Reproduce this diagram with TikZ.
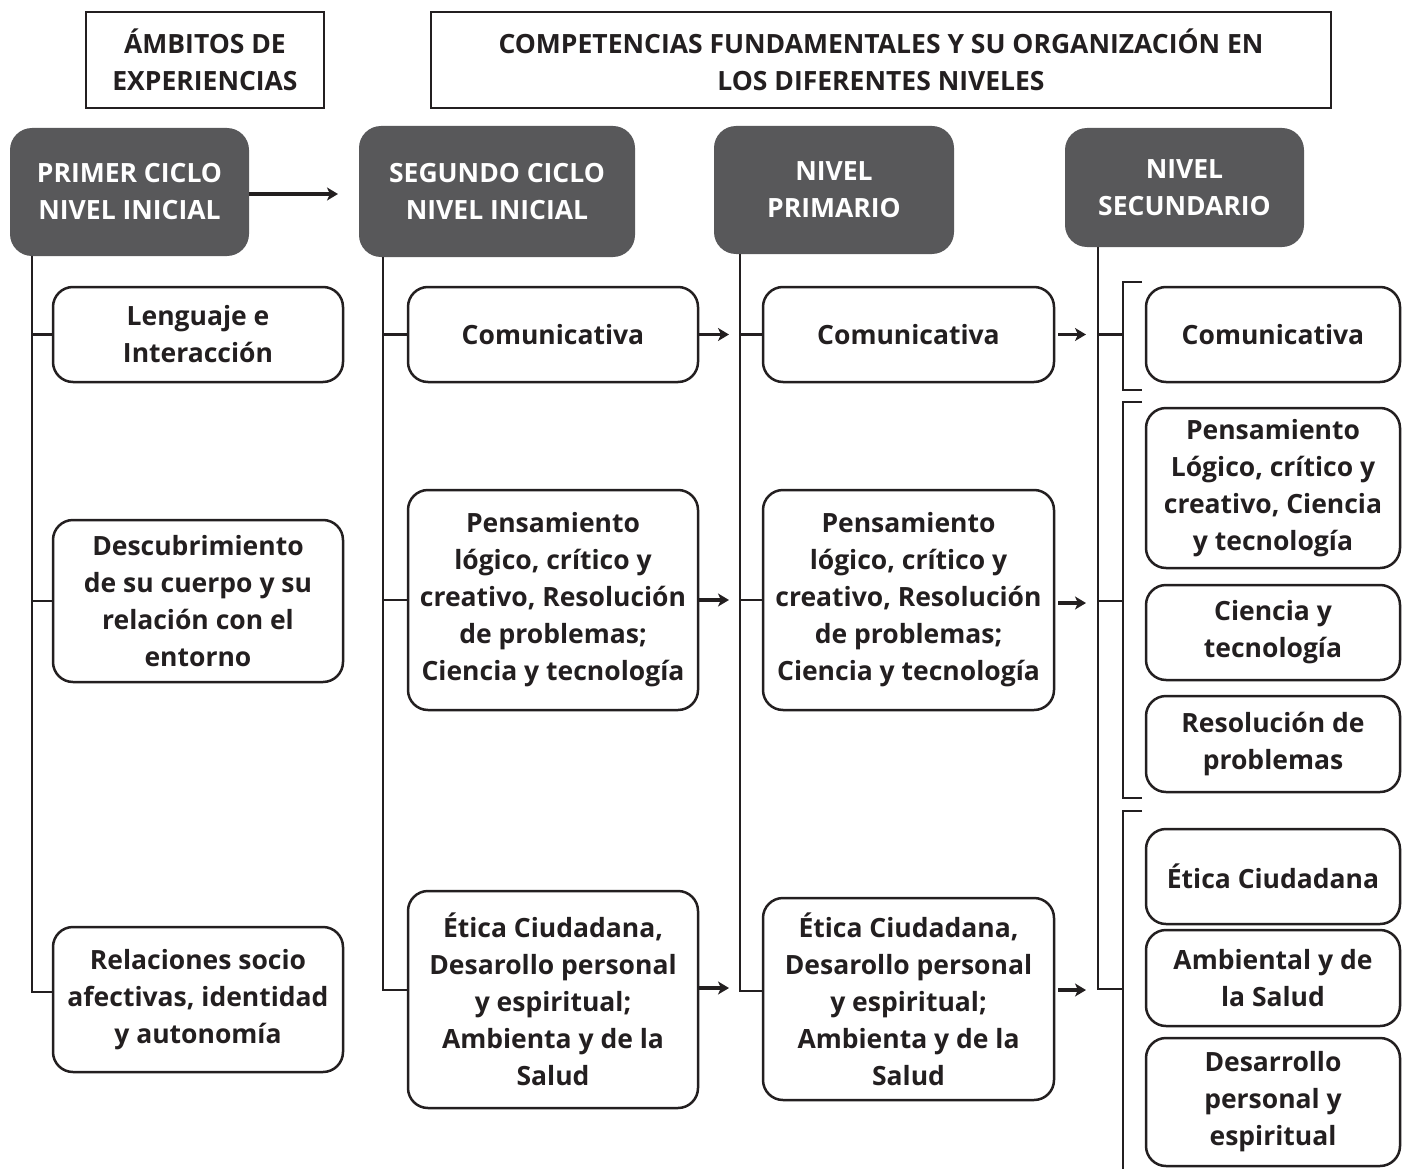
\documentclass[tikz,border=0pt]{standalone}
\usepackage{fontspec}
\setmainfont{Open Sans}
\usetikzlibrary{arrows.meta}
\definecolor{ink}{HTML}{231F20}
\definecolor{dark}{HTML}{58585A}
\begin{document}
\begin{tikzpicture}[x=1pt,y=-1pt,
  txt/.style={font=\fontsize{26.5}{37}\selectfont\bfseries, align=center, inner sep=0pt},
  wbox/.style={txt, draw=ink, text=ink, line width=2.5pt, rounded corners=20pt, fill=white},
  dbox/.style={txt, fill=dark, text=white, rounded corners=22pt},
  hbox/.style={txt, draw=ink, text=ink, line width=2.5pt},
  conn/.style={draw=ink, line width=2.5pt},
  arr/.style={draw=ink, line width=3.5pt, -{Stealth[length=11pt,width=13pt,inset=3pt]}},
]
\useasboundingbox (0,0) rectangle (1402,1169);
% headers
\node[hbox, minimum width=238pt, minimum height=96pt] (h1) at (205,60) {ÁMBITOS DE\\EXPERIENCIAS};
\node[hbox, minimum width=900pt, minimum height=96pt] (h2) at (881,60) {COMPETENCIAS FUNDAMENTALES Y SU ORGANIZACIÓN EN\\LOS DIFERENTES NIVELES};
% dark headers
\node[dbox, minimum width=239pt, minimum height=128pt] (p1) at (129.5,192) {PRIMER CICLO\\NIVEL INICIAL};
\node[dbox, minimum width=276pt, minimum height=131pt] (p2) at (497,191.5) {SEGUNDO CICLO\\NIVEL INICIAL};
\node[dbox, minimum width=240pt, minimum height=128pt] (p3) at (834,190) {NIVEL\\PRIMARIO};
\node[dbox, minimum width=239pt, minimum height=119pt] (p4) at (1184.5,187.5) {NIVEL\\SECUNDARIO};
% column 1
\node[wbox, minimum width=290pt, minimum height=95pt] (leng) at (198,334.5) {Lenguaje e\\Interacción};
\node[wbox, minimum width=290pt, minimum height=162pt] (desc) at (198,601) {Descubrimiento\\de su cuerpo y su\\relación con el\\entorno};
\node[wbox, minimum width=290pt, minimum height=145pt] (rel) at (198,999.5) {Relaciones socio\\afectivas, identidad\\y autonomía};
% column 2
\node[wbox, minimum width=290pt, minimum height=95pt] (c2a) at (553,334.5) {Comunicativa};
\node[wbox, minimum width=290pt, minimum height=220pt] (c2b) at (553,600) {Pensamiento\\lógico, crítico y\\creativo, Resolución\\de problemas;\\Ciencia y tecnología};
\node[wbox, minimum width=290pt, minimum height=217pt] (c2c) at (553,999.5) {Ética Ciudadana,\\Desarollo personal\\y espiritual;\\Ambienta y de la\\Salud};
% column 3
\node[wbox, minimum width=291pt, minimum height=95pt] (c3a) at (908.5,334.5) {Comunicativa};
\node[wbox, minimum width=291pt, minimum height=220pt] (c3b) at (908.5,600) {Pensamiento\\lógico, crítico y\\creativo, Resolución\\de problemas;\\Ciencia y tecnología};
\node[wbox, minimum width=291pt, minimum height=202pt] (c3c) at (908.5,999) {Ética Ciudadana,\\Desarollo personal\\y espiritual;\\Ambienta y de la\\Salud};
% column 4
\node[wbox, minimum width=254pt, minimum height=95pt] (s1) at (1273,334.5) {Comunicativa};
\node[wbox, minimum width=254pt, minimum height=160pt] (s2) at (1273,488) {Pensamiento\\Lógico, crítico y\\creativo, Ciencia\\y tecnología};
\node[wbox, minimum width=254pt, minimum height=95pt] (s3) at (1273,632.5) {Ciencia y\\tecnología};
\node[wbox, minimum width=254pt, minimum height=96pt] (s4) at (1273,744) {Resolución de\\problemas};
\node[wbox, minimum width=254pt, minimum height=95pt] (s5) at (1273,876.5) {Ética Ciudadana};
\node[wbox, minimum width=254pt, minimum height=96pt] (s6) at (1273,978) {Ambiental y de\\la Salud};
\node[wbox, minimum width=254pt, minimum height=128pt] (s7) at (1273,1102) {Desarrollo\\personal y\\espiritual};
% vertical guide coordinates
\coordinate (v1) at (32,0);
\coordinate (v2) at (383,0);
\coordinate (v3) at (740,0);
\coordinate (v4) at (1098,0);
\coordinate (br) at (1123,0);
\coordinate (r1) at (0,992);
\coordinate (r2) at (0,990);
\coordinate (r3) at (0,991);
\coordinate (r4) at (0,989);
\coordinate (a2) at (0,988);
\coordinate (a3) at (0,990);
% column 1 connectors
\draw[conn] (v1 |- p1.south) |- (rel.west |- r1);
\draw[conn] (v1 |- leng.west) -- (leng.west);
\draw[conn] (v1 |- desc.west) -- (desc.west);
% column 2 connectors
\draw[conn] (v2 |- p2.south) |- (c2c.west |- r2);
\draw[conn] (v2 |- c2a.west) -- (c2a.west);
\draw[conn] (v2 |- c2b.west) -- (c2b.west);
% column 3 connectors
\draw[conn] (v3 |- p3.south) |- (c3c.west |- r3);
\draw[conn] (v3 |- c3a.west) -- (c3a.west);
\draw[conn] (v3 |- c3b.west) -- (c3b.west);
% column 4 connectors
\coordinate (b1t) at (1142,282);
\coordinate (b1b) at (1142,390);
\coordinate (b2t) at (1142,402);
\coordinate (b2b) at (1142,798);
\coordinate (b3t) at (1142,811);
\coordinate (b3b) at (1123,1172);
\draw[conn] (v4 |- p4.south) |- (br |- r4);
\draw[conn] (v4 |- s1.west) -- (br |- s1.west);
\draw[conn] (v4 |- 0,601) -- (br |- 0,601);
\draw[conn] (b1t) -| (br |- b1b) -- (b1b);
\draw[conn] (b2t) -| (br |- b2b) -- (b2b);
\draw[conn] (b3t) -| (b3b);
% arrows
\coordinate (a0) at (338,0);
\draw[arr, line width=4pt] (p1.east |- 0,194) -- (a0 |- 0,194);
\draw[arr, shorten >=11pt] (c2a.east) -- (v3 |- c2a.east);
\draw[arr, shorten >=11pt] (c2b.east) -- (v3 |- c2b.east);
\draw[arr, shorten >=11pt] (c2c.east |- a2) -- (v3 |- a2);
\draw[arr, shorten >=12pt, shorten <=3pt] (c3a.east) -- (v4 |- c3a.east);
\draw[arr, shorten >=12pt, shorten <=3pt] (c3b.east |- 0,603) -- (v4 |- 0,603);
\draw[arr, shorten >=12pt, shorten <=3pt] (c3c.east |- a3) -- (v4 |- a3);
\end{tikzpicture}
\end{document}
